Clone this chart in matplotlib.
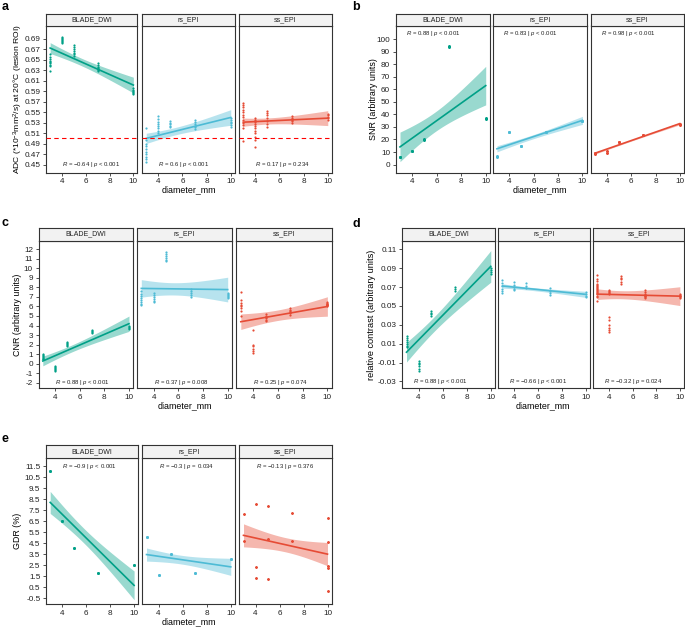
import numpy as np
import matplotlib
matplotlib.use("Agg")
import matplotlib.pyplot as plt
from math import gamma, sqrt, pi

plt.rcParams['font.family'] = ['Liberation Sans', 'DejaVu Sans']
plt.rcParams['mathtext.fontset'] = 'custom'
plt.rcParams['mathtext.rm'] = 'Liberation Sans'
plt.rcParams['mathtext.it'] = 'Liberation Sans:italic'
plt.rcParams['axes.unicode_minus'] = False

seqs = ["BLADE_DWI", "rs_EPI", "ss_EPI"]
colors = ["#00A087", "#4DBBD5", "#E64B35"]

# ---------------- panel a : ADC ----------------
a_blade = {3: [0.660, 0.655, 0.652, 0.648, 0.645, 0.643, 0.640, 0.638, 0.628],
           4: [0.694, 0.692, 0.690, 0.688, 0.686, 0.684, 0.681],
           5: [0.678, 0.675, 0.671, 0.667, 0.663, 0.660, 0.657],
           7: [0.643, 0.640, 0.637, 0.635, 0.632, 0.630, 0.628],
           10: [0.596, 0.593, 0.591, 0.589, 0.587, 0.585]}
a_rs = {3: [0.519, 0.497, 0.490, 0.485, 0.480, 0.475, 0.470, 0.465, 0.460, 0.456],
        4: [0.543, 0.537, 0.532, 0.528, 0.524, 0.520, 0.515, 0.511],
        5: [0.533, 0.530, 0.527, 0.524, 0.521],
        7: [0.536, 0.531, 0.527, 0.524, 0.521, 0.518],
        10: [0.539, 0.535, 0.532, 0.529, 0.526, 0.522]}
a_ss = {3: [0.568, 0.564, 0.560, 0.555, 0.550, 0.545, 0.540, 0.535, 0.530, 0.525, 0.520, 0.496],
        4: [0.539, 0.536, 0.532, 0.528, 0.524, 0.520, 0.515, 0.510, 0.503, 0.497, 0.483],
        5: [0.553, 0.549, 0.544, 0.538, 0.533, 0.527, 0.521],
        7: [0.543, 0.539, 0.536, 0.533, 0.530],
        10: [0.547, 0.544, 0.541, 0.538, 0.535]}
a_r = ["−0.64", "0.6", "0.17"]
a_p = ["< 0.001", "< 0.001", "= 0.234"]

# ---------------- panel b : SNR (overlapping repeats) ----------------
b_blade = {3: [5.8, 6.3], 4: [10.9, 11.2], 5: [19.8, 20.3], 7: [93.4, 94.8], 10: [36.5, 37.2]}
b_rs = {3: [6.4, 6.8], 4: [25.8, 26.3], 5: [14.7, 15.1], 7: [25.8, 26.2], 10: [34.4, 35.0]}
b_ss = {3: [8.8, 9.2], 4: [9.6, 10.6], 5: [17.8, 18.3], 7: [23.2, 23.9], 10: [31.3, 32.2]}
b_rep = [5, 5, 5]
b_r = ["0.88", "0.83", "0.98"]
b_p = ["< 0.001", "< 0.001", "< 0.001"]

# ---------------- panel c : CNR ----------------
c_blade = {3: [1.05, 0.9, 0.8, 0.7, 0.6, 0.5, 0.45],
           4: [-0.3, -0.4, -0.5, -0.6, -0.7, -0.75],
           5: [2.3, 2.2, 2.1, 2.0, 1.9],
           7: [3.5, 3.4, 3.3, 3.2],
           10: [3.9, 3.8, 3.7, 3.6]}
c_rs = {3: [7.6, 7.3, 7.1, 6.9, 6.7, 6.5, 6.3, 6.2],
        4: [7.4, 7.2, 7.0, 6.8, 6.6, 6.5],
        5: [11.75, 11.5, 11.3, 11.1, 10.9, 10.75],
        7: [7.8, 7.6, 7.4, 7.2, 7.0],
        10: [7.4, 7.3, 7.2, 7.1, 7.0, 6.9]}
c_ss = {3: [7.5, 6.7, 6.4, 6.2, 6.0, 5.8, 5.5, 5.0],
        4: [3.5, 2.0, 1.8, 1.5, 1.3, 1.1],
        5: [5.2, 5.0, 4.9, 4.8, 4.6, 4.5],
        7: [5.8, 5.6, 5.5, 5.4, 5.3, 5.1],
        10: [6.5, 6.4, 6.3, 6.25, 6.2, 6.15, 6.1, 6.0]}
c_r = ["0.88", "0.37", "0.25"]
c_p = ["< 0.001", "= 0.008", "= 0.074"]

# ---------------- panel d : relative contrast ----------------
d_blade = {3: [0.0185, 0.016, 0.014, 0.012, 0.010, 0.008, 0.006],
           4: [-0.008, -0.010, -0.012, -0.014, -0.017, -0.019],
           5: [0.045, 0.043, 0.041, 0.039],
           7: [0.070, 0.068, 0.066],
           10: [0.090, 0.088, 0.086, 0.084]}
d_rs = {3: [0.077, 0.074, 0.071, 0.068, 0.066, 0.064],
        4: [0.075, 0.072, 0.070, 0.068, 0.067],
        5: [0.074, 0.071, 0.069],
        7: [0.069, 0.066, 0.064, 0.062],
        10: [0.065, 0.063, 0.061, 0.059]}
d_ss = {3: [0.083, 0.079, 0.076, 0.073, 0.072, 0.071, 0.070, 0.069, 0.068, 0.067, 0.066,
            0.065, 0.064, 0.063, 0.061, 0.059, 0.055],
        4: [0.038, 0.035, 0.030, 0.027, 0.024, 0.022, 0.067, 0.066, 0.065, 0.064, 0.063],
        5: [0.082, 0.080, 0.078, 0.075, 0.073],
        7: [0.067, 0.065, 0.063, 0.062, 0.061, 0.060, 0.059, 0.058],
        10: [0.063, 0.062, 0.061, 0.060, 0.059, 0.058]}
d_r = ["0.88", "−0.66", "−0.32"]
d_p = ["< 0.001", "< 0.001", "= 0.024"]

# ---------------- panel e : GDR (overlapping repeats) ----------------
e_blade = {3: [11.05], 4: [6.51], 5: [4.03], 7: [1.77], 10: [2.52]}
e_rs = {3: [5.09], 4: [1.61], 5: [3.49], 7: [1.77], 10: [3.07]}
e_ss = {3: [7.12, 4.70], 4: [8.02, 2.31, 1.31], 5: [7.87, 4.85, 1.25],
        7: [7.21, 4.64], 10: [6.75, 4.58, 2.37, 2.22, 0.10]}
e_rep = [8, 8, 4]
e_r = ["−0.9", "−0.3", "−0.13"]
e_p = ["< 0.001", "= 0.034", "= 0.376"]


def to_xy(d, rep=1):
    x = np.concatenate([[k] * len(v) for k, v in d.items()]).astype(float)
    y = np.concatenate([v for v in d.values()]).astype(float)
    return np.repeat(x, rep), np.repeat(y, rep)


def t975(df):
    # 97.5% quantile of Student t (for the 95% band like geom_smooth)
    g = np.linspace(0, 30, 300001)
    c = gamma((df + 1) / 2) / (sqrt(df * pi) * gamma(df / 2))
    cdf = 0.5 + np.cumsum(c * (1 + g ** 2 / df) ** (-(df + 1) / 2)) * (g[1] - g[0])
    return g[np.searchsorted(cdf, 0.975)]


W, H = 685, 628
fig = plt.figure(figsize=(W / 100, H / 100), dpi=100)


def box(l, t, r, b):
    return [l / W, 1 - b / H, (r - l) / W, (b - t) / H]


def panel(letter, lxy, lefts, rights, strip, bottom, groups, ylim, yticks, fmt,
          ylabel, ylab_x, xlab_xy, rvals, pvals, lab_xy, hline=None, ylab_size=6.4):
    fig.text(lxy[0] / W, 1 - lxy[1] / H, letter, fontsize=9, fontweight='bold',
             ha='center', va='center')
    for i in range(3):
        ax = fig.add_axes(box(lefts[i], strip[1], rights[i], bottom))
        x, y = groups[i]
        col = colors[i]
        slope, icpt = np.polyfit(x, y, 1)
        n = len(x)
        s = np.sqrt(np.sum((y - (slope * x + icpt)) ** 2) / (n - 2))
        xs = np.linspace(x.min(), x.max(), 80)
        se = s * np.sqrt(1 / n + (xs - x.mean()) ** 2 / np.sum((x - x.mean()) ** 2))
        fit = slope * xs + icpt
        t = t975(n - 2)
        ax.fill_between(xs, fit - t * se, fit + t * se, color=col, alpha=0.4, lw=0)
        ax.scatter(x, y, s=2.5, color=col, lw=0, zorder=3)
        ax.plot(xs, fit, color=col, lw=1.2, zorder=4)
        if hline is not None:
            ax.axhline(hline, color='red', ls=(0, (4, 3)), lw=0.8, zorder=5)
        ax.text(lab_xy[0], lab_xy[1], "$R$ = %s $\\mathit{|}$ $p$ %s" % (rvals[i], pvals[i]),
                fontsize=4.3, ha='left', va='center', color='#222222')
        ax.set_xlim(2.65, 10.35)
        ax.set_ylim(*ylim)
        ax.set_xticks([4, 6, 8, 10])
        ax.set_yticks(yticks)
        ax.tick_params(length=2.5, width=0.6, labelsize=5.9, pad=1.5, color='#333333',
                       labelcolor='#222222')
        if i == 0:
            ax.set_yticklabels([fmt % v for v in yticks])
        else:
            ax.tick_params(axis='y', left=False, labelleft=False)
        for sp in ax.spines.values():
            sp.set_color('#333333')
            sp.set_linewidth(0.8)
        sa = fig.add_axes(box(lefts[i], strip[0], rights[i], strip[1]))
        sa.set_facecolor('#F2F2F2')
        sa.set_xticks([])
        sa.set_yticks([])
        for sp in sa.spines.values():
            sp.set_color('#333333')
            sp.set_linewidth(0.8)
        sa.text(0.5, 0.5, seqs[i], fontsize=5, ha='center', va='center',
                transform=sa.transAxes, color='#222222')
    fig.text(ylab_x / W, 1 - (strip[1] + bottom) / 2 / H, ylabel, rotation=90,
             fontsize=ylab_size, ha='center', va='center')
    fig.text(xlab_xy[0] / W, 1 - xlab_xy[1] / H, "diameter_mm", fontsize=6.4,
             ha='center', va='center')


panel("a", (5, 7), [46, 142, 239], [137.5, 235, 332], (14, 25.5), 172.5,
      [to_xy(a_blade), to_xy(a_rs), to_xy(a_ss)], (0.4351, 0.7151),
      np.round(np.arange(0.45, 0.70, 0.02), 2), "%.2f",
      r"ADC (*10$^{-3}$mm$^{2}$/s) at 20°C (lesion ROI)", 18, (189, 190),
      a_r, a_p, (4.0, 0.45), hline=0.50, ylab_size=6.1)

panel("b", (356, 7), [395.7, 492.7, 590.7], [490, 586.7, 684], (14, 25.5), 172.5,
      [to_xy(b_blade, b_rep[0]), to_xy(b_rs, b_rep[1]), to_xy(b_ss, b_rep[2])], (-6.3, 110.8),
      np.arange(0, 101, 10), "%d", "SNR (arbitrary units)", 373, (540, 190),
      b_r, b_p, (3.5, 104.6))

panel("c", (5, 223), [38.5, 137, 236.5], [133.3, 232, 331.7], (227.5, 241), 388,
      [to_xy(c_blade), to_xy(c_rs), to_xy(c_ss)], (-2.56, 12.87),
      np.arange(-2, 13, 1), "%d", "CNR (arbitrary units)", 18, (185, 405.7),
      c_r, c_p, (4.0, -2.0))

panel("d", (356, 224), [402.3, 498.3, 593.3], [495, 590, 684], (227.5, 241), 388,
      [to_xy(d_blade), to_xy(d_rs), to_xy(d_ss)], (-0.0370, 0.1188),
      np.round(np.arange(-0.03, 0.111, 0.02), 2), "%.2f",
      "relative contrast (arbitrary units)", 371, (543, 406),
      d_r, d_p, (3.55, -0.03), ylab_size=6.6)

panel("e", (5, 439), [46, 142.3, 239.3], [138.3, 235, 331.7], (445, 458.3), 604,
      [to_xy(e_blade, e_rep[0]), to_xy(e_rs, e_rep[1]), to_xy(e_ss, e_rep[2])], (-1.04, 12.2),
      np.arange(-0.5, 11.6, 1.0), "%.1f", "GDR (%)", 18, (189, 622),
      e_r, e_p, (4.0, 11.5))

plt.savefig("out.png", dpi=100)
